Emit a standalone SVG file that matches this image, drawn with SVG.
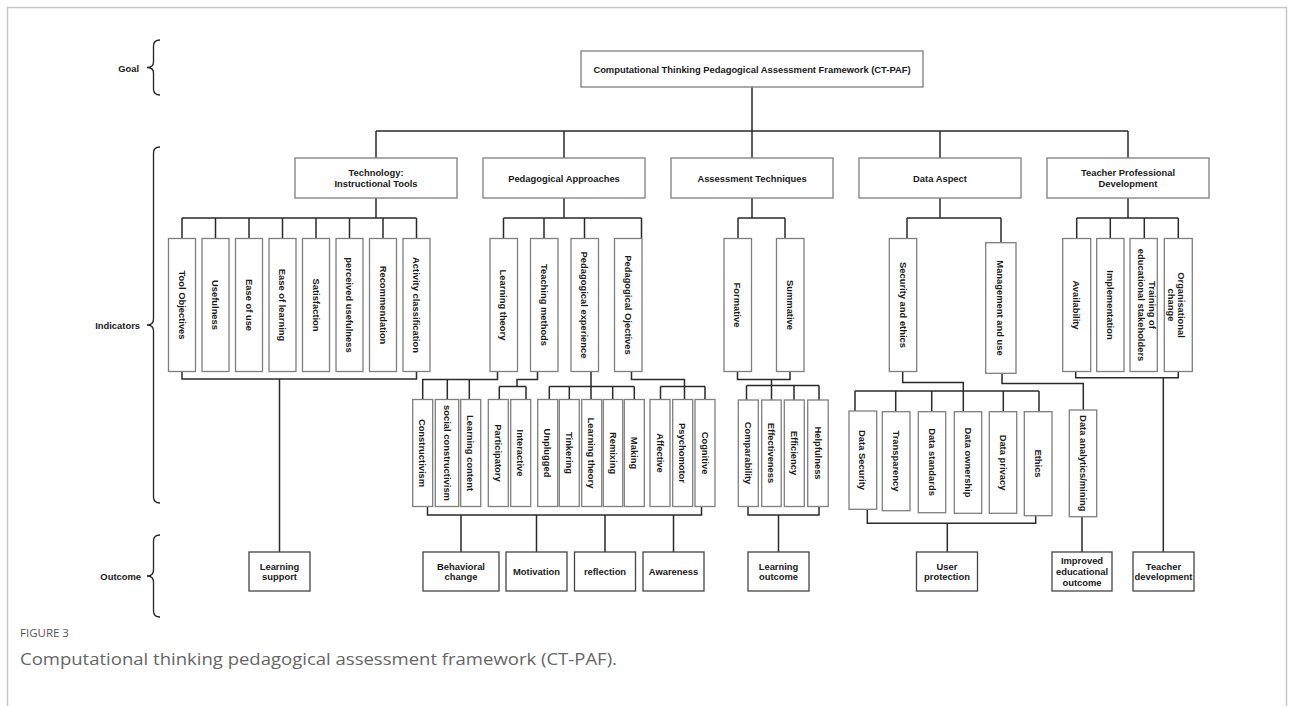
<svg xmlns="http://www.w3.org/2000/svg" width="1293" height="706" viewBox="0 0 1293 706">
<style>
text{font-family:"Liberation Sans",Arial,sans-serif;font-weight:bold;font-size:9.4px;fill:#1a1a1a;text-anchor:middle;dominant-baseline:central}
.lbl{text-anchor:end}
.box{fill:#fff;stroke:#7f7f7f;stroke-width:1.3}
.obox{fill:#fff;stroke:#444;stroke-width:1.3}
.conn path{fill:none;stroke:#2a2a2a;stroke-width:1.5}
.brace{fill:none;stroke:#222;stroke-width:1.3}
.cap1{font-family:"Open Sans","Noto Sans",sans-serif;font-weight:normal;font-size:11.5px;fill:#555;text-anchor:start;dominant-baseline:auto}
.cap2{font-family:"Open Sans","Noto Sans",sans-serif;font-weight:normal;font-size:17px;fill:#666;text-anchor:start;dominant-baseline:auto}
</style>
<rect x="7.5" y="7.5" width="1279" height="720" fill="none" stroke="#c8c8c8" stroke-width="1.5"/>

<g id="levels">
<text class="lbl" x="139" y="68">Goal</text>
<path class="brace" d="M160 40 Q153.5 40 153.5 46 V62 Q153.5 67.5 147 67.5 Q153.5 67.5 153.5 73 V89 Q153.5 95 160 95"/>
<text class="lbl" x="140" y="325">Indicators</text>
<path class="brace" d="M160 147 Q153.5 147 153.5 153 V319 Q153.5 325 147 325 Q153.5 325 153.5 331 V497 Q153.5 503 160 503"/>
<text class="lbl" x="141" y="576">Outcome</text>
<path class="brace" d="M160 535 Q153.5 535 153.5 541 V570 Q153.5 576 147 576 Q153.5 576 153.5 582 V611 Q153.5 617 160 617"/>
</g>

<g class="conn" id="connectors">
<path d="M752 87 V131 M376 131 H1128 M376 131 V158 M564 131 V158 M752 131 V158 M940 131 V158 M1128 131 V158"/>
<path d="M376 198 V218 M182 218 H416.5 M182 218 V238.5 M215.5 218 V238.5 M249 218 V238.5 M282.5 218 V238.5 M316 218 V238.5 M349.5 218 V238.5 M383 218 V238.5 M416.5 218 V238.5"/>
<path d="M182 371.5 V379 H416.5 V371.5 M279.5 379 V552"/>
<path d="M564 198 V218 M503.5 218 H641.5 M503.5 218 V238.5 M544 218 V238.5 M584.5 218 V238.5 M641.5 218 V238.5"/>
<path d="M497.5 371.5 V379.5 H422.7 V399.5 M447.3 379.5 V399.5 M469.3 379.5 V399.5"/>
<path d="M537.5 371.5 V379.5 H517 V386.5 M499.3 386.5 H526 M499.3 386.5 V399.5 M526 386.5 V399.5"/>
<path d="M591 371.5 V399.5 M549.3 386.5 H634.3 M549.3 386.5 V399.5 M569.3 386.5 V399.5 M612.7 386.5 V399.5 M634.3 386.5 V399.5"/>
<path d="M631.5 371.5 V379.5 H684.5 V399.5 M660.5 386.5 H705 M660.5 386.5 V399.5 M705 386.5 V399.5"/>
<path d="M427.5 506.5 V515 H701.5 V506.5 M461 515 V552 M536.5 515 V552 M605 515 V552 M673.5 515 V552"/>
<path d="M752 198 V218 M738 218 H785 M738 218 V238.5 M785 218 V238.5"/>
<path d="M737.5 371.5 V379.5 H790 V371.5 M771.5 379.5 V400 M746.5 385.5 H819 M746.5 385.5 V400 M794 385.5 V400 M819 385.5 V400"/>
<path d="M748 506.5 V515 H819 V506.5 M778.5 515 V552"/>
<path d="M940 198 V218 M907 218 H1001 M907 218 V238.5 M1001 218 V242.7"/>
<path d="M902.7 371.5 V382.5 H963.3 V411.7 M855 391 H1039 M855 391 V411 M895.7 391 V411.7 M931.7 391 V411.7 M1003.3 391 V411.7 M1039 391 V411.7"/>
<path d="M1002 373.3 V383.5 H1083.3 V410"/>
<path d="M867.3 509.3 V523.3 H1035.7 V515.7 M947.3 523.3 V552 M1082 516.7 V552"/>
<path d="M1128 198 V218 M1076.7 218 H1178.3 M1076.7 218 V238.5 M1110.3 218 V238.5 M1144.3 218 V238.5 M1178.3 218 V238.5"/>
<path d="M1075.7 371.5 V377.7 H1178.3 V371.5 M1163.3 377.7 V552"/>
</g>

<g id="goal"><rect class="box" x="581" y="51" width="342" height="36"/><text x="752" y="69">Computational Thinking Pedagogical Assessment Framework (CT-PAF)</text></g>

<g id="cat-tech"><rect class="box" x="295" y="158" width="162" height="40"/><text x="376" y="172.8">Technology:</text><text x="376" y="183.6">Instructional  Tools</text></g>
<g id="cat-ped"><rect class="box" x="483" y="158" width="162" height="40"/><text x="564" y="178">Pedagogical Approaches</text></g>
<g id="cat-assess"><rect class="box" x="671" y="158" width="162" height="40"/><text x="752" y="178">Assessment Techniques</text></g>
<g id="cat-data"><rect class="box" x="859" y="158" width="162" height="40"/><text x="940" y="178">Data Aspect</text></g>
<g id="cat-tpd"><rect class="box" x="1047" y="158" width="162" height="40"/><text x="1128" y="172.8">Teacher Professional</text><text x="1128" y="183.6">Development</text></g>

<g id="ind-tool"><rect class="box" x="168.5" y="238.5" width="27" height="133"/><text transform="translate(182,305) rotate(90)">Tool Objectives</text></g>
<g id="ind-usefulness"><rect class="box" x="202" y="238.5" width="27" height="133"/><text transform="translate(215.5,305) rotate(90)">Usefulness</text></g>
<g id="ind-easeuse"><rect class="box" x="235.5" y="238.5" width="27" height="133"/><text transform="translate(249,305) rotate(90)">Ease of use</text></g>
<g id="ind-easelearn"><rect class="box" x="269" y="238.5" width="27" height="133"/><text transform="translate(282.5,305) rotate(90)">Ease of learning</text></g>
<g id="ind-satisfaction"><rect class="box" x="302.5" y="238.5" width="27" height="133"/><text transform="translate(316,305) rotate(90)">Satisfaction</text></g>
<g id="ind-perceived"><rect class="box" x="336" y="238.5" width="27" height="133"/><text transform="translate(349.5,305) rotate(90)">perceived usefulness</text></g>
<g id="ind-recommend"><rect class="box" x="369.5" y="238.5" width="27" height="133"/><text transform="translate(383,305) rotate(90)">Recommendation</text></g>
<g id="ind-activity"><rect class="box" x="403" y="238.5" width="27" height="133"/><text transform="translate(416.5,305) rotate(90)">Activity classification</text></g>

<g id="ind-learntheory"><rect class="box" x="490" y="238.5" width="27.5" height="133"/><text transform="translate(503.7,305) rotate(90)">Learning theory</text></g>
<g id="ind-teaching"><rect class="box" x="530.5" y="238.5" width="27.5" height="133"/><text transform="translate(544.2,305) rotate(90)">Teaching methods</text></g>
<g id="ind-pedexp"><rect class="box" x="571" y="238.5" width="27.5" height="133"/><text transform="translate(584.7,305) rotate(90)">Pedagogical experience</text></g>
<g id="ind-pedobj"><rect class="box" x="614.5" y="238.5" width="27.5" height="133"/><text transform="translate(628.2,305) rotate(90)">Pedagogical Ojectives</text></g>

<g id="sub-constructivism"><rect class="box" x="412.7" y="399.5" width="20" height="107"/><text transform="translate(422.7,453) rotate(90)">Constructivism</text></g>
<g id="sub-social"><rect class="box" x="435.3" y="399.5" width="23.4" height="107"/><text transform="translate(447,453) rotate(90)">social constructivism</text></g>
<g id="sub-content"><rect class="box" x="460.7" y="399.5" width="20" height="107"/><text transform="translate(470.7,453) rotate(90)">Learning content</text></g>
<g id="sub-participatory"><rect class="box" x="488.3" y="399.5" width="20" height="107"/><text transform="translate(498.3,453) rotate(90)">Participatory</text></g>
<g id="sub-interactive"><rect class="box" x="510.7" y="399.5" width="20" height="107"/><text transform="translate(520.7,453) rotate(90)">Interactive</text></g>
<g id="sub-unplugged"><rect class="box" x="537.7" y="399.5" width="20" height="107"/><text transform="translate(547.7,453) rotate(90)">Unplugged</text></g>
<g id="sub-tinkering"><rect class="box" x="559.3" y="399.5" width="20" height="107"/><text transform="translate(569.3,453) rotate(90)">Tinkering</text></g>
<g id="sub-learntheory2"><rect class="box" x="581.7" y="399.5" width="20" height="107"/><text transform="translate(591.7,453) rotate(90)">Learning theory</text></g>
<g id="sub-remixing"><rect class="box" x="603.3" y="399.5" width="19.4" height="107"/><text transform="translate(613,453) rotate(90)">Remixing</text></g>
<g id="sub-making"><rect class="box" x="624.3" y="399.5" width="20" height="107"/><text transform="translate(634.3,453) rotate(90)">Making</text></g>
<g id="sub-affective"><rect class="box" x="650" y="399.5" width="20" height="107"/><text transform="translate(660,453) rotate(90)">Affective</text></g>
<g id="sub-psychomotor"><rect class="box" x="672.7" y="399.5" width="20" height="107"/><text transform="translate(682.7,453) rotate(90)">Psychomotor</text></g>
<g id="sub-cognitive"><rect class="box" x="695" y="399.5" width="20" height="107"/><text transform="translate(705,453) rotate(90)">Cognitive</text></g>

<g id="ind-formative"><rect class="box" x="724" y="238.5" width="27.5" height="133"/><text transform="translate(737.7,305) rotate(90)">Formative</text></g>
<g id="ind-summative"><rect class="box" x="776.5" y="238.5" width="27.5" height="133"/><text transform="translate(790.2,305) rotate(90)">Summative</text></g>
<g id="sub-comparability"><rect class="box" x="738.3" y="400" width="20" height="106.5"/><text transform="translate(748.3,453) rotate(90)">Comparability</text></g>
<g id="sub-effectiveness"><rect class="box" x="761.7" y="400" width="19.5" height="106.5"/><text transform="translate(771.4,453) rotate(90)">Effectiveness</text></g>
<g id="sub-efficiency"><rect class="box" x="784.3" y="400" width="20" height="106.5"/><text transform="translate(794.3,453) rotate(90)">Efficiency</text></g>
<g id="sub-helpfulness"><rect class="box" x="807.7" y="400" width="20.5" height="106.5"/><text transform="translate(818,453) rotate(90)">Helpfulness</text></g>

<g id="ind-security"><rect class="box" x="889.3" y="238.5" width="27.4" height="133"/><text transform="translate(903,305) rotate(90)">Security and ethics</text></g>
<g id="ind-management"><rect class="box" x="985.7" y="242.7" width="30.3" height="130.6"/><text transform="translate(1000.8,308) rotate(90)">Management and use</text></g>
<g id="sub-datasecurity"><rect class="box" x="849" y="411" width="27.7" height="98.3"/><text transform="translate(862.8,460) rotate(90)">Data Security</text></g>
<g id="sub-transparency"><rect class="box" x="882.3" y="411.7" width="27.7" height="99"/><text transform="translate(896.1,461) rotate(90)">Transparency</text></g>
<g id="sub-standards"><rect class="box" x="918.3" y="411.7" width="27.4" height="101"/><text transform="translate(932,462) rotate(90)">Data standards</text></g>
<g id="sub-ownership"><rect class="box" x="954.3" y="411.7" width="27.4" height="101.6"/><text transform="translate(968,462.5) rotate(90)">Data ownership</text></g>
<g id="sub-privacy"><rect class="box" x="989.3" y="411.7" width="27.4" height="101.6"/><text transform="translate(1003,462.5) rotate(90)">Data privacy</text></g>
<g id="sub-ethics"><rect class="box" x="1024.3" y="411.7" width="27.7" height="104"/><text transform="translate(1038.1,463.5) rotate(90)">Ethics</text></g>
<g id="sub-analytics"><rect class="box" x="1069.3" y="410" width="27.4" height="106.7"/><text transform="translate(1083,463.3) rotate(90)">Data analytics/mining</text></g>

<g id="ind-availability"><rect class="box" x="1062.7" y="238.5" width="28" height="133"/><text transform="translate(1076.7,305) rotate(90)">Availability</text></g>
<g id="ind-implementation"><rect class="box" x="1096.7" y="238.5" width="27.3" height="133"/><text transform="translate(1110.3,305) rotate(90)">Implementation</text></g>
<g id="ind-training"><rect class="box" x="1130" y="238.5" width="27.3" height="133"/><text transform="translate(1147.4,305) rotate(90)"><tspan x="0" y="-5.8">Training of</tspan><tspan x="0" y="5.8">educational stakeholders</tspan></text></g>
<g id="ind-organisational"><rect class="box" x="1164.3" y="238.5" width="28" height="133"/><text transform="translate(1177,305) rotate(90)"><tspan x="0" y="-5.4">Organisational</tspan><tspan x="0" y="5.4">change</tspan></text></g>

<g id="out-learnsupport"><rect class="obox" x="249" y="552" width="61" height="39"/><text x="279.5" y="566.2">Learning</text><text x="279.5" y="576.8">support</text></g>
<g id="out-behavioral"><rect class="obox" x="423" y="552" width="76" height="39"/><text x="461" y="566.2">Behavioral</text><text x="461" y="576.8">change</text></g>
<g id="out-motivation"><rect class="obox" x="506" y="552" width="61" height="39"/><text x="536.5" y="571.5">Motivation</text></g>
<g id="out-reflection"><rect class="obox" x="574.5" y="552" width="61" height="39"/><text x="605" y="571.5">reflection</text></g>
<g id="out-awareness"><rect class="obox" x="643" y="552" width="61" height="39"/><text x="673.5" y="571.5">Awareness</text></g>
<g id="out-learnoutcome"><rect class="obox" x="748" y="552" width="61" height="39"/><text x="778.5" y="566.2">Learning</text><text x="778.5" y="576.8">outcome</text></g>
<g id="out-userprotection"><rect class="obox" x="916.5" y="552" width="61" height="39"/><text x="947" y="566.2">User</text><text x="947" y="576.8">protection</text></g>
<g id="out-improved"><rect class="obox" x="1052" y="552" width="60" height="39"/><text x="1082" y="560.8">Improved</text><text x="1082" y="571.5">educational</text><text x="1082" y="582.2">outcome</text></g>
<g id="out-teacherdev"><rect class="obox" x="1133" y="552" width="61" height="39"/><text x="1163.5" y="566.2">Teacher</text><text x="1163.5" y="576.8">development</text></g>

<text class="cap1" x="20" y="637">FIGURE 3</text>
<text class="cap2" x="20" y="665" textLength="597" lengthAdjust="spacingAndGlyphs">Computational thinking pedagogical assessment framework (CT-PAF).</text>
</svg>
